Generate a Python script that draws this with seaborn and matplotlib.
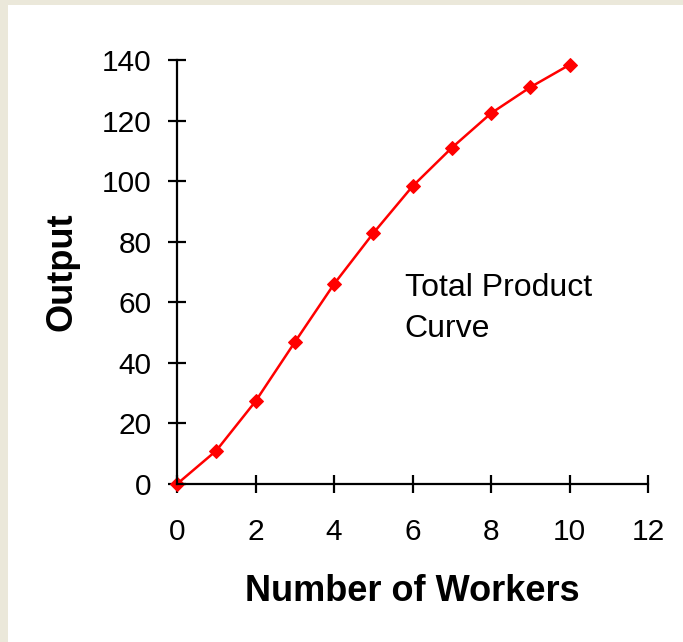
import numpy as np
import pandas as pd
import seaborn as sns
import matplotlib.pyplot as plt

sns.set_style("white")
plt.rcParams['font.family'] = ['Liberation Sans', 'DejaVu Sans']
plt.rcParams['text.color'] = 'black'
plt.rcParams['axes.labelcolor'] = 'black'
plt.rcParams['xtick.color'] = 'black'
plt.rcParams['ytick.color'] = 'black'

workers = [0, 1, 2, 3, 4, 5, 6, 7, 8, 9, 10]
output = [0, 11, 27.3, 46.8, 66, 82.8, 98.3, 111, 122.4, 131, 138.4]
x_ticks = [0, 2, 4, 6, 8, 10, 12]
y_ticks = [0, 20, 40, 60, 80, 100, 120, 140]

data = pd.DataFrame({"Workers": workers, "Output": output})

fig = plt.figure(figsize=(6.83, 6.42), dpi=100, facecolor="#ebe8da")
# white panel inside the beige frame
bg = fig.add_axes([8 / 683, 0, 1 - 8 / 683, 1 - 5 / 642], zorder=-1)
bg.set_facecolor("white")
bg.set_xticks([])
bg.set_yticks([])
for s in bg.spines.values():
    s.set_visible(False)

ax = fig.add_axes([177 / 683, 1 - 484 / 642, (648 - 177) / 683, (484 - 60) / 642])
ax.set_facecolor("none")

sns.lineplot(x="Workers", y="Output", data=data, ax=ax, color="red", linewidth=1.8,
             marker="D", markersize=7, markeredgecolor="red", clip_on=False)

ax.set_xlim(0, 12)
ax.set_ylim(0, 140)
ax.set_xticks(x_ticks)
ax.set_yticks(y_ticks)
for s in ["top", "right"]:
    ax.spines[s].set_visible(False)
for s in ["left", "bottom"]:
    ax.spines[s].set_linewidth(1.6)
    ax.spines[s].set_color("black")
ax.tick_params(bottom=True, left=True, direction="inout", length=13, width=1.6,
               labelsize=21.5, color="black")
ax.tick_params(axis="x", pad=18)
ax.tick_params(axis="y", pad=12)
ax.set_xlabel("Number of Workers", fontsize=26, fontweight="bold", labelpad=20)
ax.set_ylabel("Output", fontsize=26, fontweight="bold", labelpad=16)
ax.text(5.8, 58, "Total Product\nCurve", fontsize=23, ha="left", va="center", linespacing=1.45)

plt.savefig("out.png", dpi=100, facecolor=fig.get_facecolor())
